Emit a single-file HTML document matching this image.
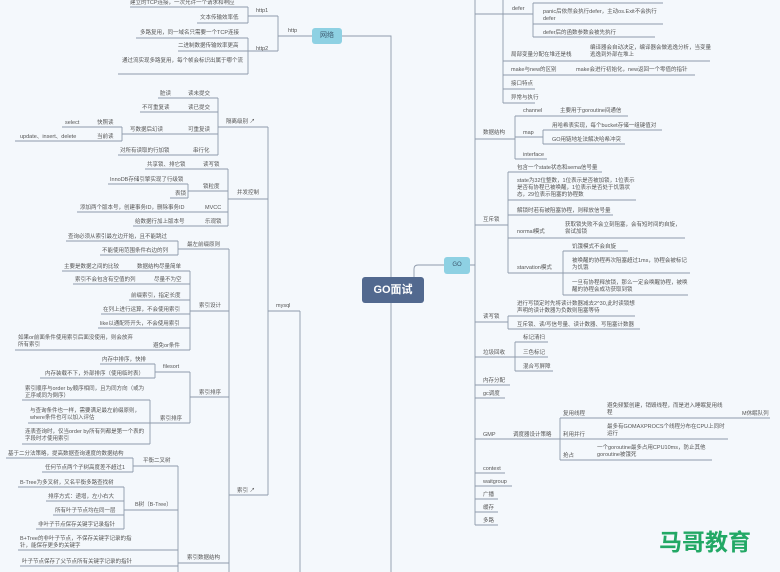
<!DOCTYPE html>
<html><head><meta charset="utf-8"><style>
body{margin:0;width:780px;height:572px;background:#f4f8fc;position:relative;overflow:hidden;font-family:"Liberation Sans","Noto Sans CJK SC",sans-serif}
.t{position:absolute;font-size:5.5px;line-height:7px;color:#555;white-space:nowrap}
.w{white-space:normal}
svg{position:absolute;left:0;top:0}
.n{position:absolute;border-radius:3px;text-align:center}
</style></head><body>
<svg width="780" height="572" fill="none" stroke="#8e9aab" stroke-width="0.9">
<!-- network -->
<path d="M342 36H391V572M130 7H248M197 23H248M248 7V23M248 16H278M278 16V51M278 36H312M136 38H248M178 51H248M118 74H248M248 38V74M248 51H278"/>
<!-- isolation -->
<path d="M158 98H218M140 112H218M62 127H122M15 141H122M122 127V141M122 134H218M118 155H218M218 98V155M218 127H268"/>
<path d="M145 169H228M108 184H188M170 198H188M188 184V198M188 191H228M77 212H228M133 226H228M228 169V226M228 199H268"/>
<!-- index -->
<path d="M66 241H178M100 255H178M178 241V255M178 249H229M62 271H190M73 284H190M129 300H190M101 314H190M98 328H190M15 350H190M190 271V350M190 311H229"/>
<path d="M100 364H155M40 378H155M155 364V378M155 372H190M22 400H150M28 423H150M22 444H150M150 400V444M150 423H190M190 372V423M190 397H229"/>
<path d="M6 458H133M42 472H133M133 458V472M133 466H178M18 487H124M46 501H124M53 515H124M36 529H124M124 487V529M124 510H178M18 550H178M20 566H178M178 466V572M178 563H229M229 249V572M229 495H268M268 127V495M268 311H300M300 311V572"/>
<!-- center -->
<path d="M470 265H475M444 265H418Q414 265 414 269V277M475 0V525"/>
<!-- GO side -->
<path d="M475 14H503M503 0V103M533 3H663M533 24H663M533 37H655M533 3V37M503 14H533M503 61H710M503 75H695M503 89H535M503 103H535"/>
<path d="M515 116H628M543 130H662M543 144H625M543 130V144M515 137H543M515 159H547M515 116V159M475 139H515"/>
<path d="M508 172H602M508 200H636M508 215H613M508 238H685M563 251H628M563 273H690M563 295H688M563 251V295M508 273H563M508 172V273M475 225H508"/>
<path d="M508 316H635M508 329H640M508 316V329M475 322H508M515 342H548M515 357H548M515 371H553M515 342V371M475 357H515M475 385H510M475 398H505"/>
<path d="M560 418H770M560 439H728M560 460H712M560 418V460M475 439H560M475 473H505M475 486H512M475 499H498M475 512H498M475 525H498"/>
</svg>
<div class="n" style="left:362px;top:277px;width:62px;height:26px;background:#52698f;color:#fff;font-weight:bold;font-size:11px;line-height:26px">GO面试</div>
<div class="n" style="left:312px;top:28px;width:30px;height:16px;background:#8ed1e3;color:#3d5a70;font-size:7px;line-height:16px">网络</div>
<div class="n" style="left:444px;top:257px;width:26px;height:17px;background:#8ed1e3;color:#3d5a70;font-size:6px;line-height:17px">GO</div>
<div class="t" style="left:130px;top:0">建立的TCP连接，一次允许一个请求和响应</div>
<div class="t" style="left:200px;top:15px">文本传输效率低</div>
<div class="t" style="left:256px;top:8px">http1</div>
<div class="t" style="left:288px;top:28px">http</div>
<div class="t" style="left:140px;top:30px">多路复用，同一域名只需要一个TCP连接</div>
<div class="t" style="left:178px;top:43px">二进制数据传输效率更高</div>
<div class="t" style="left:256px;top:46px">http2</div>
<div class="t w" style="left:122px;top:58px;width:122px">通过流实现多路复用，每个帧会标识出属于哪个流</div>
<div class="t" style="left:160px;top:91px">脏读</div><div class="t" style="left:188px;top:91px">读未提交</div>
<div class="t" style="left:142px;top:105px">不可重复读</div><div class="t" style="left:188px;top:105px">读已提交</div>
<div class="t" style="left:65px;top:120px">select</div><div class="t" style="left:97px;top:120px">快照读</div>
<div class="t" style="left:20px;top:134px">update、insert、delete</div><div class="t" style="left:97px;top:134px">当前读</div>
<div class="t" style="left:130px;top:127px">写数据后幻读</div><div class="t" style="left:188px;top:127px">可重复读</div>
<div class="t" style="left:120px;top:148px">对所有读取的行加锁</div><div class="t" style="left:193px;top:148px">串行化</div>
<div class="t" style="left:226px;top:119px">隔离级别 ↗</div>
<div class="t" style="left:147px;top:162px">共享锁、排它锁</div><div class="t" style="left:203px;top:162px">读写锁</div>
<div class="t" style="left:110px;top:177px">InnoDB存储引擎实现了行级锁</div><div class="t" style="left:203px;top:184px">锁粒度</div>
<div class="t" style="left:175px;top:191px">表锁</div>
<div class="t" style="left:80px;top:205px">添加两个版本号，创建事务ID，删除事务ID</div><div class="t" style="left:205px;top:205px">MVCC</div>
<div class="t" style="left:135px;top:219px">给数据行加上版本号</div><div class="t" style="left:205px;top:219px">乐观锁</div>
<div class="t" style="left:237px;top:190px">并发控制</div>
<div class="t" style="left:68px;top:234px">查询必须从索引最左边开始，且不能跳过</div>
<div class="t" style="left:102px;top:248px">不能使用范围条件右边的列</div>
<div class="t" style="left:187px;top:242px">最左前缀原则</div>
<div class="t" style="left:64px;top:264px">主要是数据之间的比较</div><div class="t" style="left:137px;top:264px">数据结构尽量简单</div>
<div class="t" style="left:75px;top:277px">索引不会包含有空值的列</div><div class="t" style="left:154px;top:277px">尽量不为空</div>
<div class="t" style="left:131px;top:293px">前缀索引，指定长度</div>
<div class="t" style="left:103px;top:307px">在列上进行运算，不会使用索引</div>
<div class="t" style="left:100px;top:321px">like以通配符开头，不会使用索引</div>
<div class="t w" style="left:18px;top:335px;width:120px">如果or前面条件使用索引后面没使用，则会放弃所有索引</div><div class="t" style="left:153px;top:343px">避免or条件</div>
<div class="t" style="left:199px;top:303px">索引设计</div>
<div class="t" style="left:102px;top:357px">内存中排序，快排</div>
<div class="t" style="left:45px;top:371px">内存装载不下，外部排序（使用临时表）</div>
<div class="t" style="left:163px;top:364px">filesort</div>
<div class="t w" style="left:25px;top:386px;width:122px">索引顺序与order by顺序相同，且为同方向（或为正序或同为倒序）</div>
<div class="t w" style="left:30px;top:408px;width:114px">与查询条件也一样，需要满足最左前缀原则，where条件也可以加入评估</div>
<div class="t w" style="left:25px;top:429px;width:120px">连表查询时，仅当order by所有列都是第一个表的字段时才使用索引</div>
<div class="t" style="left:160px;top:416px">索引排序</div>
<div class="t" style="left:199px;top:390px">索引排序</div>
<div class="t" style="left:8px;top:451px">基于二分法策略，提高数据查询速度的数据结构</div>
<div class="t" style="left:45px;top:465px">任何节点两个子树高度差不超过1</div>
<div class="t" style="left:143px;top:458px">平衡二叉树</div>
<div class="t" style="left:20px;top:480px">B-Tree为多叉树，又名平衡多路查找树</div>
<div class="t" style="left:48px;top:494px">排序方式：递增，左小右大</div>
<div class="t" style="left:55px;top:508px">所有叶子节点均在同一层</div>
<div class="t" style="left:38px;top:522px">非叶子节点保存关键字记录指针</div>
<div class="t" style="left:135px;top:502px">B树（B-Tree）</div>
<div class="t w" style="left:20px;top:536px;width:118px">B+Tree的非叶子节点，不保存关键字记录的指针，能保存更多的关键字</div>
<div class="t" style="left:22px;top:559px">叶子节点保存了父节点所有关键字记录的指针</div>
<div class="t" style="left:187px;top:555px">索引数据结构</div>
<div class="t" style="left:237px;top:488px">索引 ↗</div>
<div class="t" style="left:276px;top:303px">mysql</div>
<div class="t" style="left:483px;top:-4px">defer</div>
<div class="t" style="left:512px;top:6px">defer</div>
<div class="t w" style="left:543px;top:9px;width:120px">panic后依然会执行defer，主动os.Exit不会执行defer</div>
<div class="t" style="left:543px;top:30px">defer后的函数参数会被先执行</div>
<div class="t" style="left:511px;top:52px">局部变量分配在堆还是栈</div>
<div class="t w" style="left:590px;top:45px;width:122px">编译器会自动决定，编译器会做逃逸分析，当变量逃逸到外部在堆上</div>
<div class="t" style="left:511px;top:67px">make与new的区别</div><div class="t" style="left:576px;top:67px">make会进行初始化，new返回一个零值的指针</div>
<div class="t" style="left:511px;top:81px">接口特点</div>
<div class="t" style="left:511px;top:95px">异常与执行</div>
<div class="t" style="left:523px;top:108px">channel</div><div class="t" style="left:560px;top:108px">主要用于goroutine间通信</div>
<div class="t" style="left:552px;top:123px">用哈希表实现，每个bucket存储一组键值对</div>
<div class="t" style="left:552px;top:137px">GO用链地址法解决哈希冲突</div>
<div class="t" style="left:523px;top:130px">map</div>
<div class="t" style="left:523px;top:152px">interface</div>
<div class="t" style="left:483px;top:130px">数据结构</div>
<div class="t" style="left:517px;top:165px">包含一个state状态和sema信号量</div>
<div class="t w" style="left:517px;top:178px;width:118px">state为32位整数，1位表示是否被加锁，1位表示是否有协程已被唤醒，1位表示是否处于饥饿状态，29位表示阻塞的协程数</div>
<div class="t" style="left:517px;top:208px">解锁时若有被阻塞协程，则释放信号量</div>
<div class="t w" style="left:565px;top:222px;width:118px">获取锁失败不会立刻阻塞，会有短时间的自旋，尝试加锁</div><div class="t" style="left:517px;top:229px">normal模式</div>
<div class="t" style="left:572px;top:244px">饥饿模式不会自旋</div>
<div class="t w" style="left:572px;top:258px;width:118px">被唤醒的协程再次阻塞超过1ms，协程会被标记为饥饿</div>
<div class="t w" style="left:572px;top:280px;width:118px">一旦有协程释放锁，那么一定会唤醒协程，被唤醒的协程会成功获取到锁</div>
<div class="t" style="left:517px;top:265px">starvation模式</div>
<div class="t" style="left:483px;top:217px">互斥锁</div>
<div class="t w" style="left:517px;top:301px;width:120px">进行写锁定时先将读计数器减去2^30,此时读锁想声明的读计数器为负数则阻塞等待</div>
<div class="t" style="left:517px;top:322px">互斥锁、读/写信号量、读计数器、写阻塞计数器</div>
<div class="t" style="left:483px;top:314px">读写锁</div>
<div class="t" style="left:523px;top:335px">标记清扫</div><div class="t" style="left:523px;top:350px">三色标记</div><div class="t" style="left:523px;top:364px">混合写屏障</div>
<div class="t" style="left:483px;top:350px">垃圾回收</div>
<div class="t" style="left:483px;top:378px">内存分配</div><div class="t" style="left:483px;top:391px">gc调度</div>
<div class="t" style="left:483px;top:432px">GMP</div><div class="t" style="left:513px;top:432px">调度器设计策略</div>
<div class="t" style="left:563px;top:411px">复用线程</div>
<div class="t w" style="left:607px;top:403px;width:118px">避免频繁创建，销毁线程，而是进入睡眠复用线程</div>
<div class="t" style="left:742px;top:411px">M休眠队列</div>
<div class="t" style="left:563px;top:432px">利用并行</div>
<div class="t w" style="left:607px;top:424px;width:118px">最多有GOMAXPROCS个线程分布在CPU上同时运行</div>
<div class="t" style="left:563px;top:453px">抢占</div>
<div class="t w" style="left:597px;top:445px;width:118px">一个goroutine最多占用CPU10ms，防止其他goroutine被饿死</div>
<div class="t" style="left:483px;top:466px">context</div><div class="t" style="left:483px;top:479px">waitgroup</div>
<div class="t" style="left:483px;top:492px">广播</div><div class="t" style="left:483px;top:505px">缓存</div><div class="t" style="left:483px;top:518px">多路</div>
<div style="position:absolute;left:659px;top:527px;font-size:23px;line-height:26px;font-weight:bold;color:#22a865;font-family:'Noto Sans CJK SC',sans-serif;letter-spacing:0">马哥教育</div>
</body></html>
